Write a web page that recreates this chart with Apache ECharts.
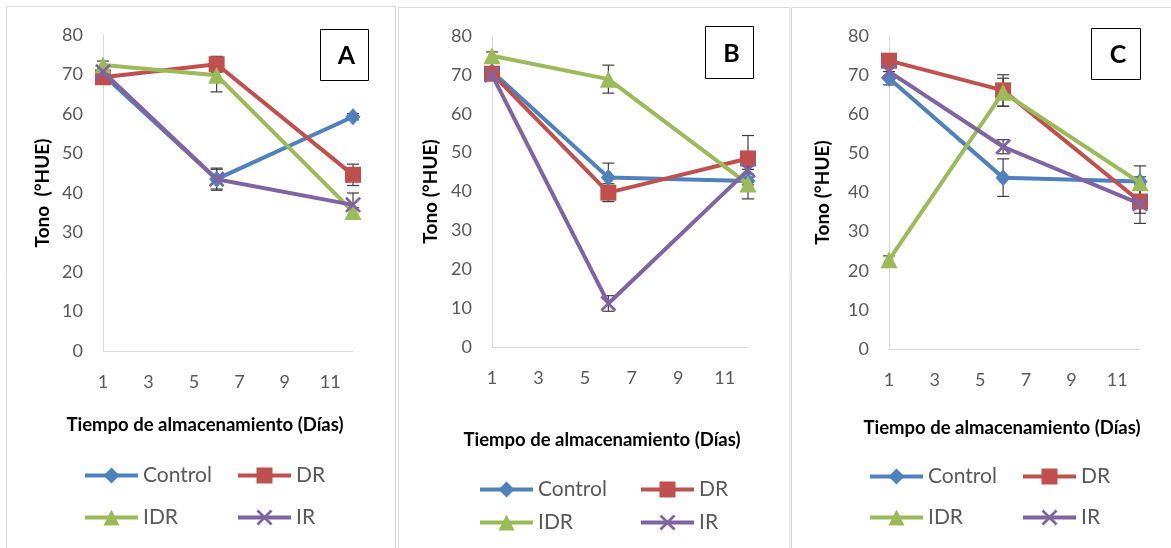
<!DOCTYPE html>
<html>
<head>
<meta charset="utf-8">
<script src="https://cdn.jsdelivr.net/npm/echarts@6/dist/echarts.min.js"></script>
<style>
  html, body { margin: 0; padding: 0; background: #fff; }
  #chart { width: 1171px; height: 548px; }
</style>
</head>
<body>
<div id="chart"></div>
<script>
// Storage days sampled in every trial
const days = [1, 6, 12];
const seriesNames = ['Control', 'DR', 'IDR', 'IR'];
const panelLetters = ['A', 'B', 'C'];
const yTitles = ['Tono  (°HUE)', 'Tono (°HUE)', 'Tono (°HUE)'];
const xTitle = 'Tiempo de almacenamiento (Días)';
const xTickLabels = [1, 3, 5, 7, 9, 11];

// Hue angle (°HUE), panel A
const controlA = [70.0, 43.5, 59.3];
const drA      = [69.3, 72.6, 44.6];
const idrA     = [72.4, 69.8, 35.3];
const irA      = [70.7, 43.5, 37.0];
// Hue angle (°HUE), panel B
const controlB = [70.9, 43.6, 42.7];
const drB      = [70.3, 39.7, 48.5];
const idrB     = [74.9, 68.9, 41.9];
const irB      = [70.0, 11.2, 45.5];
// Hue angle (°HUE), panel C
const controlC = [69.2, 43.8, 42.8];
const drC      = [73.7, 66.1, 37.7];
const idrC     = [22.8, 65.6, 42.5];
const irC      = [70.9, 51.7, 37.1];

// Standard deviations
const controlAErr = [1.0, 2.8, 0.8];
const drAErr      = [1.0, 2.0, 2.7];
const idrAErr     = [1.0, 4.2, 1.0];
const irAErr      = [1.0, 2.5, 3.0];
const controlBErr = [1.0, 3.7, 1.0];
const drBErr      = [1.0, 2.3, 5.9];
const idrBErr     = [1.0, 3.6, 3.8];
const irBErr      = [1.0, 2.0, 1.0];
const controlCErr = [1.7, 4.8, 4.0];
const drCErr      = [1.0, 4.0, 3.0];
const idrCErr     = [1.0, 3.6, 1.5];
const irCErr      = [1.0, 1.8, 5.0];

const panelValues = [
  [controlA, drA, idrA, irA],
  [controlB, drB, idrB, irB],
  [controlC, drC, idrC, irC]
];
const panelErrors = [
  [controlAErr, drAErr, idrAErr, irAErr],
  [controlBErr, drBErr, idrBErr, irBErr],
  [controlCErr, drCErr, idrCErr, irCErr]
];

const FONT = 'Lato, "Open Sans", sans-serif';
const colors = ['#4F81BD', '#C0504D', '#9BBB59', '#8064A2'];
const xMarker = 'path://M0,1.2L1.2,0L5,3.8L8.8,0L10,1.2L6.2,5L10,8.8L8.8,10L5,6.2L1.2,10L0,8.8L3.8,5Z';
const symbols = ['diamond', 'rect', 'triangle', xMarker];
const symbolSizes = [[15, 17], 16, 17, 16];

// Layout of the three panels
const panels = [
  { grid: { left: 103, top: 35, width: 250, height: 316 }, nameGap: 51,
    border: { x: 6.5, y: 6.5, width: 389, height: 600 },
    box: { x: 320.5, y: 29.5, width: 48, height: 51 },
    xTitlePos: [205, 425],
    legend: [[83, 475], [236, 475], [83, 517], [236, 517]] },
  { grid: { left: 492, top: 36, width: 256, height: 311 }, nameGap: 52,
    border: { x: 398.5, y: 7.5, width: 391.5, height: 600 },
    box: { x: 705.5, y: 26.5, width: 48, height: 52 },
    xTitlePos: [602, 440],
    legend: [[478, 489], [639, 489], [478, 522], [639, 522]] },
  { grid: { left: 889, top: 36, width: 251, height: 313 }, nameGap: 57,
    border: { x: 791.5, y: 7.5, width: 420, height: 600 },
    box: { x: 1091.5, y: 28.5, width: 49, height: 51 },
    xTitlePos: [1002, 428],
    legend: [[868, 476], [1021, 476], [868, 517], [1021, 517]] }
];

function renderErrorBar(params, api) {
  const x = api.value(0), y = api.value(1), e = api.value(2);
  const hi = api.coord([x, y + e]);
  const lo = api.coord([x, y - e]);
  const w = 6;
  const style = { stroke: '#3F3F3F', lineWidth: 1.2 };
  return {
    type: 'group',
    children: [
      { type: 'line', shape: { x1: hi[0], y1: hi[1], x2: lo[0], y2: lo[1] }, style },
      { type: 'line', shape: { x1: hi[0] - w, y1: hi[1], x2: hi[0] + w, y2: hi[1] }, style },
      { type: 'line', shape: { x1: lo[0] - w, y1: lo[1], x2: lo[0] + w, y2: lo[1] }, style }
    ]
  };
}

const grids = [], xAxes = [], yAxes = [], series = [], legends = [], graphics = [];

panels.forEach((p, pi) => {
  grids.push(Object.assign({ containLabel: false }, p.grid));
  xAxes.push({
    type: 'value', gridIndex: pi, min: 1, max: 12, interval: 1,
    axisLine: { show: true, lineStyle: { color: '#D9D9D9', width: 1 } },
    axisTick: { show: false },
    splitLine: { show: false },
    axisLabel: {
      color: '#595959', fontFamily: FONT, fontSize: 18, margin: 22,
      showMinLabel: true, showMaxLabel: true,
      formatter: v => (xTickLabels.indexOf(v) >= 0 ? String(v) : '')
    }
  });
  yAxes.push({
    type: 'value', gridIndex: pi, min: 0, max: 80, interval: 10,
    name: yTitles[pi], nameLocation: 'middle', nameGap: p.nameGap,
    nameTextStyle: { color: '#000', fontFamily: FONT, fontSize: 19, fontWeight: 'bold' },
    axisLine: { show: true, lineStyle: { color: '#D9D9D9', width: 1 } },
    axisTick: { show: false },
    splitLine: { show: false },
    axisLabel: { color: '#595959', fontFamily: FONT, fontSize: 18, margin: 20 }
  });

  seriesNames.forEach((name, si) => {
    const vals = panelValues[pi][si];
    const errs = panelErrors[pi][si];
    series.push({
      type: 'custom', name: name + ' error', xAxisIndex: pi, yAxisIndex: pi,
      renderItem: renderErrorBar, z: 1, silent: true,
      data: days.map((d, i) => [d, vals[i], errs[i]])
    });
  });
  seriesNames.forEach((name, si) => {
    const vals = panelValues[pi][si];
    series.push({
      type: 'line', name: name, xAxisIndex: pi, yAxisIndex: pi, z: 2 + si,
      data: days.map((d, i) => [d, vals[i]]),
      symbol: symbols[si], symbolSize: symbolSizes[si], showAllSymbol: true,
      itemStyle: { color: colors[si] },
      lineStyle: { color: colors[si], width: 4 },
      emphasis: { disabled: true },
      silent: true
    });
  });

  p.legend.forEach((pos, li) => {
    legends.push({
      data: [seriesNames[li]],
      left: pos[0], top: pos[1] - 10,
      padding: 0, itemWidth: 53, itemHeight: 20, itemGap: 0,
      lineStyle: { width: 4 },
      textStyle: { color: '#595959', fontFamily: FONT, fontSize: 21 },
      selectedMode: false
    });
  });

  graphics.push({
    type: 'rect', shape: p.border, silent: true, z: 0,
    style: { fill: 'none', stroke: '#D9D9D9', lineWidth: 1 }
  });
  graphics.push({
    type: 'rect', shape: p.box, silent: true, z: 10,
    style: { fill: '#fff', stroke: '#000', lineWidth: 1 }
  });
  graphics.push({
    type: 'text', silent: true, z: 11,
    x: p.box.x + p.box.width / 2 + 2, y: p.box.y + p.box.height / 2 + 1,
    style: { text: panelLetters[pi], fill: '#000', font: 'bold 25px ' + FONT,
             textAlign: 'center', textVerticalAlign: 'middle' }
  });
  graphics.push({
    type: 'text', silent: true, z: 11,
    x: p.xTitlePos[0], y: p.xTitlePos[1],
    style: { text: xTitle, fill: '#000', font: 'bold 18.5px ' + FONT,
             textAlign: 'center', textVerticalAlign: 'middle' }
  });
});

const chart = echarts.init(document.getElementById('chart'), null, { renderer: 'canvas' });
chart.setOption({
  animation: false,
  backgroundColor: '#fff',
  grid: grids,
  xAxis: xAxes,
  yAxis: yAxes,
  legend: legends,
  series: series,
  graphic: graphics
});
</script>
</body>
</html>
